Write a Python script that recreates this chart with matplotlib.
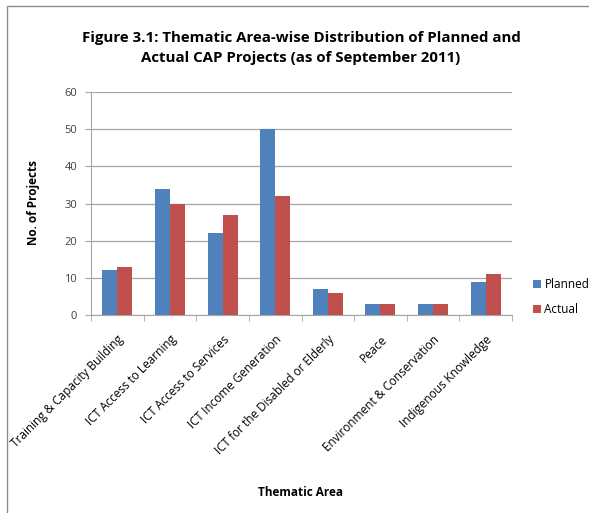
import numpy as np
import matplotlib
matplotlib.use("Agg")
from matplotlib import pyplot as plt
from matplotlib.patches import Rectangle

# Data
categories = [
    "Training & Capacity Building",
    "ICT Access to Learning",
    "ICT Access to Services",
    "ICT Income Generation",
    "ICT for the Disabled or Elderly",
    "Peace",
    "Environment & Conservation",
    "Indigenous Knowledge",
]
planned = [12, 34, 22, 50, 7, 3, 3, 9]
actual = [13, 30, 27, 32, 6, 3, 3, 11]
y_ticks = [0, 10, 20, 30, 40, 50, 60]

plt.rcParams["font.family"] = ["Open Sans", "DejaVu Sans"]

fig = plt.figure(figsize=(5.89, 5.13), dpi=100)
ax = fig.add_axes([91 / 589, 1 - 315 / 513, (512 - 91) / 589, (315 - 92) / 513])

# outer chart frame (left and top edges visible)
fig.patches.append(Rectangle((7 / 589, -0.1), 1.2, 1 - 6 / 513 + 0.1,
                             transform=fig.transFigure, fill=False,
                             edgecolor="#8c8c8c", linewidth=1.0))

x = np.arange(len(categories))
w = 0.286
ax.bar(x - w / 2, planned, w, color="#4F81BD", label="Planned", zorder=3)
ax.bar(x + w / 2, actual, w, color="#C0504D", label="Actual", zorder=3)

ax.set_xlim(-0.5, len(categories) - 0.5)
ax.set_ylim(0, 60)
ax.set_yticks(y_ticks)
ax.yaxis.grid(True, color="#a6a6a6", linewidth=0.9, zorder=0)
ax.tick_params(axis="y", labelsize=8, color="#a6a6a6", length=4, pad=6,
               labelcolor="#404040")

# category labels rotated, tick marks at category boundaries
ax.set_xticks(x)
ax.set_xticklabels(categories, rotation=45, ha="right", rotation_mode="anchor",
                   fontsize=8.5)
ax.tick_params(axis="x", length=0, pad=13)
ax.set_xticks(np.arange(-0.5, len(categories)), minor=True)
ax.tick_params(axis="x", which="minor", length=4, color="#a6a6a6")

for side in ["top", "right"]:
    ax.spines[side].set_visible(False)
for side in ["left", "bottom"]:
    ax.spines[side].set_color("#a6a6a6")

fig.text(301 / 589, 1 - 48 / 513,
         "Figure 3.1: Thematic Area-wise Distribution of Planned and\nActual CAP Projects (as of September 2011)",
         ha="center", va="center", fontsize=10.8, fontweight="bold",
         linespacing=1.55)
fig.text(33 / 589, 1 - 203 / 513, "No. of Projects", rotation=90,
         ha="center", va="center", fontsize=8.5, fontweight="bold")
fig.text(300 / 589, 1 - 492 / 513, "Thematic Area", ha="center", va="center",
         fontsize=8.5, fontweight="bold")

fig.legend(loc="center left", bbox_to_anchor=(522 / 589, 1 - 297 / 513),
           frameon=False, fontsize=8.5, handlelength=0.7, handleheight=0.7,
           handletextpad=0.3, labelspacing=1.0)

fig.savefig("out.png", dpi=100)
plt.close(fig)
